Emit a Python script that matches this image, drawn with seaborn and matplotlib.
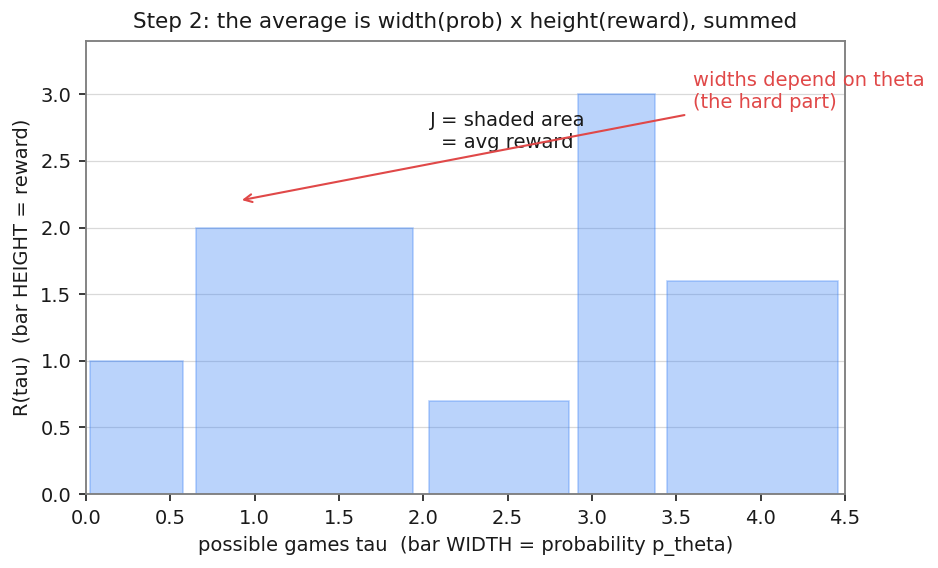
import matplotlib
matplotlib.use("Agg")
import matplotlib.pyplot as plt
import seaborn as sns

# possible games tau: left edge, width (probability p_theta), reward R(tau)
game_left = [0.024, 0.650, 2.034, 2.915, 3.443]
game_width = [0.553, 1.290, 0.830, 0.460, 1.017]
reward = [1.0, 2.0, 0.7, 3.0, 1.6]

sns.set_theme(style="ticks")
plt.rcParams['font.family'] = ['DejaVu Sans']
plt.rcParams['text.color'] = '#1a1a1a'
plt.rcParams['axes.labelcolor'] = '#1a1a1a'

fig, ax = plt.subplots(figsize=(9.38 / 1.5, 5.68 / 1.5), dpi=150)

ax.bar(game_left, reward, width=game_width, align="edge",
       color="#3b82f6", alpha=0.35, edgecolor="#3b82f6", linewidth=0.8, zorder=2)

ax.yaxis.grid(True, color="#d9d9d9", linewidth=0.6, zorder=1)
for sp in ax.spines.values():
    sp.set_color("#808080")
    sp.set_linewidth(0.9)
ax.tick_params(colors="#333333", labelcolor="#1a1a1a", labelsize=9.35, length=3.5, width=0.9)

ax.set_xlim(0, 4.5)
ax.set_ylim(0, 3.4)
ax.set_yticks([0, 0.5, 1.0, 1.5, 2.0, 2.5, 3.0])

ax.set_title("Step 2: the average is width(prob) x height(reward), summed", fontsize=10.3)
ax.set_xlabel("possible games tau  (bar WIDTH = probability p_theta)", fontsize=9.35)
ax.set_ylabel("R(tau)  (bar HEIGHT = reward)", fontsize=9.35)

ax.text(2.5, 2.72, "J = shaded area\n= avg reward", ha="center", va="center",
        fontsize=9.35, zorder=4)
ax.annotate("widths depend on theta\n(the hard part)", xy=(0.9, 2.2), xytext=(3.6, 2.9),
            color="#e04848", fontsize=9.35, annotation_clip=False,
            arrowprops=dict(arrowstyle="->", color="#e04848", lw=1.0), zorder=5)

fig.subplots_adjust(left=86 / 938, right=845 / 938, top=1 - 41 / 568, bottom=1 - 494 / 568)
fig.savefig("out.png", dpi=150)
